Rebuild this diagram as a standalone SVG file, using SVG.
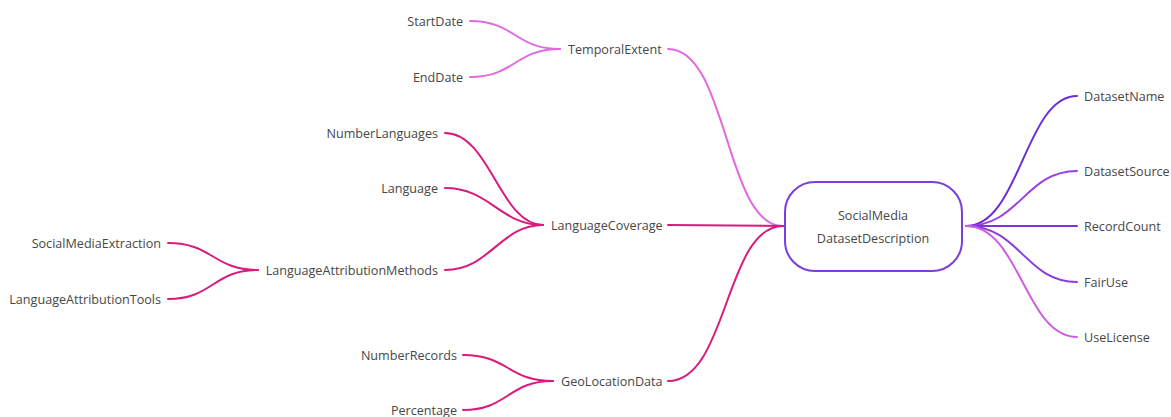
<svg xmlns="http://www.w3.org/2000/svg" width="1171" height="417" viewBox="0 0 1171 417">
<style>
text{font-family:"Open Sans","Noto Sans","Liberation Sans",sans-serif;font-size:12.6px;fill:#474747;dominant-baseline:central}
.l{text-anchor:end}
.m{text-anchor:middle}
path{fill:none;stroke-width:2;stroke-linecap:round}
.t{stroke:#e06ae0}
.c{stroke:#d81b7d}
</style>
<rect width="1171" height="417" fill="#ffffff"/>
<g id="connectors">
<path class="t" d="M470,21 C515,21 515,49 560,49"/>
<path class="t" d="M470,77 C515,77 515,49 560,49"/>
<path class="t" d="M668,49 C728,49 725,226 783,226"/>
<path class="c" d="M445,133 C490,133 500,225 543,225"/>
<path class="c" d="M445,188 C490,188 500,225 543,225"/>
<path class="c" d="M445,270 C490,270 500,225 543,225"/>
<path class="c" d="M168,243 C213,243 213,270 258,270"/>
<path class="c" d="M168,299 C213,299 213,270 258,270"/>
<path class="c" d="M668,225 L783,226"/>
<path class="c" d="M463,355 C508,355 508,381 553,381"/>
<path class="c" d="M463,410 C508,410 508,381 553,381"/>
<path class="c" d="M668,381 C728,381 725,226 783,226"/>
<path stroke="#6b2fd6" d="M966,226 C1020,226 1025,96 1077,96"/>
<path stroke="#9a40e0" d="M966,226 C1020,226 1025,171 1077,171"/>
<path stroke="#7b33dd" d="M966,226 L1077,226"/>
<path stroke="#8b3fd8" d="M966,226 C1020,226 1025,282 1077,282"/>
<path stroke="#d05ee0" d="M966,226 C1020,226 1025,337 1077,337"/>
</g>
<g id="center">
<rect x="785" y="182" width="177" height="89" rx="30" fill="#ffffff" stroke="#7a3ee0" stroke-width="2"/>
<text class="m" x="873" y="215">SocialMedia</text>
<text class="m" x="873" y="238">DatasetDescription</text>
</g>
<g id="TemporalExtent"><text x="568" y="49">TemporalExtent</text></g>
<g id="StartDate"><text class="l" x="463" y="21">StartDate</text></g>
<g id="EndDate"><text class="l" x="463" y="77">EndDate</text></g>
<g id="LanguageCoverage"><text x="551" y="225">LanguageCoverage</text></g>
<g id="NumberLanguages"><text class="l" x="438" y="133">NumberLanguages</text></g>
<g id="Language"><text class="l" x="438" y="188">Language</text></g>
<g id="LanguageAttributionMethods"><text class="l" x="438" y="270">LanguageAttributionMethods</text></g>
<g id="SocialMediaExtraction"><text class="l" x="161" y="243">SocialMediaExtraction</text></g>
<g id="LanguageAttributionTools"><text class="l" x="161" y="299">LanguageAttributionTools</text></g>
<g id="GeoLocationData"><text x="561" y="381">GeoLocationData</text></g>
<g id="NumberRecords"><text class="l" x="457" y="355">NumberRecords</text></g>
<g id="Percentage"><text class="l" x="457" y="410">Percentage</text></g>
<g id="DatasetName"><text x="1084" y="96">DatasetName</text></g>
<g id="DatasetSource"><text x="1084" y="171">DatasetSource</text></g>
<g id="RecordCount"><text x="1084" y="226">RecordCount</text></g>
<g id="FairUse"><text x="1084" y="282">FairUse</text></g>
<g id="UseLicense"><text x="1084" y="337">UseLicense</text></g>
</svg>
